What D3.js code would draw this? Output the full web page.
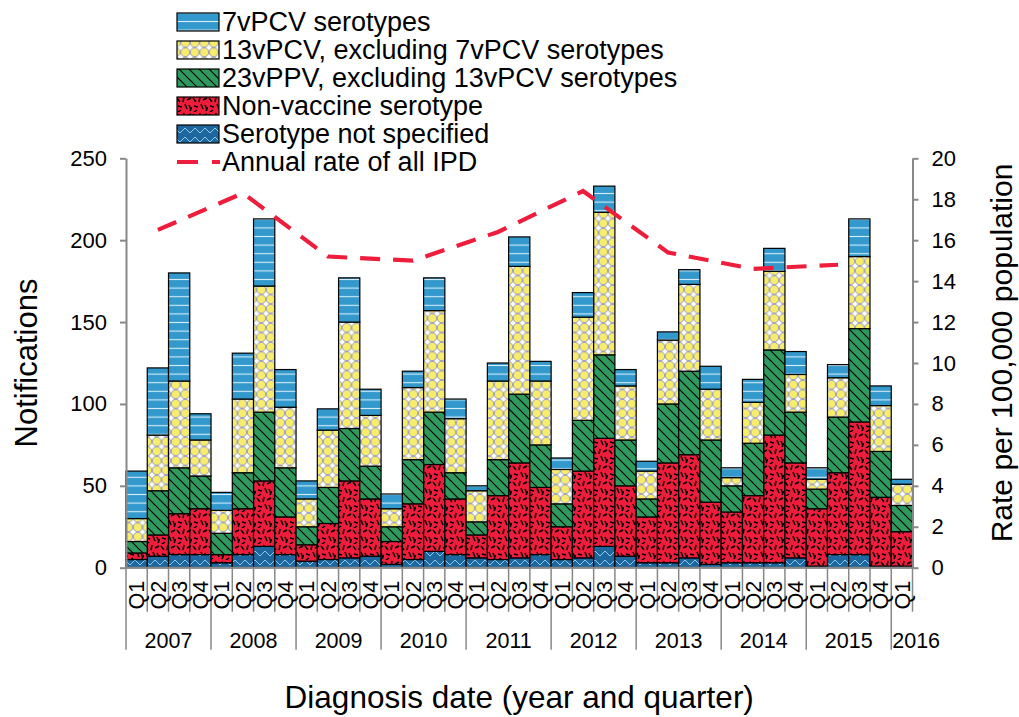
<!DOCTYPE html>
<html>
<head>
<meta charset="utf-8">
<script src="https://cdn.jsdelivr.net/npm/d3@7"></script>
<style>
  body { margin: 0; background: #fff; }
  svg text { font-family: "Liberation Sans", Arial, sans-serif; fill: #000; }
</style>
</head>
<body>
<svg id="chart" width="1019" height="717"></svg>
<script>
// ---------------- DATA ----------------
const years = ["2007","2008","2009","2010","2011","2012","2013","2014","2015","2016"];
const quarterLabels = ["Q1","Q2","Q3","Q4"];
const nQuarters = 37; // 2007 Q1 .. 2016 Q1

const notSpecified = [5,7,8,8, 3,8,13,8, 4,5,6,7, 2,5,10,8, 6,5,6,8, 5,6,13,7, 3,3,6,2, 3,3,3,6, 1,8,8,1, 1];
const nonVaccine   = [4,13,25,28, 5,28,40,23, 10,22,47,35, 14,34,53,34, 14,39,58,41, 20,53,66,43, 28,61,63,38, 31,41,78,58, 35,50,81,42, 21];
const ppv23        = [7,27,28,20, 13,22,42,30, 11,22,32,20, 9,27,32,16, 8,22,42,26, 14,31,51,28, 11,36,51,38, 16,32,52,31, 12,34,57,28, 16];
const pcv13        = [14,34,53,22, 14,45,77,37, 17,35,65,31, 11,44,62,33, 19,48,78,39, 21,63,87,33, 17,39,53,31, 5,25,48,23, 6,24,44,28, 13];
const pcv7         = [29,41,66,16, 11,28,41,23, 11,13,27,16, 9,10,20,12, 3,11,18,12, 7,15,16,10, 6,5,9,14, 6,14,14,14, 7,8,23,12, 3];

const rateYears = ["2007","2008","2009","2010","2011","2012","2013","2014","2015"];
const annualRate = [16.5, 18.3, 15.2, 15.0, 16.4, 18.4, 15.4, 14.6, 14.8];

const leftTicks = [0,50,100,150,200,250];
const rightTicks = [0,2,4,6,8,10,12,14,16,18,20];

const seriesNames = [
  "7vPCV serotypes",
  "13vPCV, excluding 7vPCV serotypes",
  "23vPPV, excluding 13vPCV serotypes",
  "Non-vaccine serotype",
  "Serotype not specified"
];
const lineName = "Annual rate of all IPD";

// ---------------- BUILD ROWS ----------------
const rows = d3.range(nQuarters).map(i => ({
  key: years[Math.floor(i/4)] + "-" + quarterLabels[i%4],
  year: years[Math.floor(i/4)],
  q: quarterLabels[i%4],
  ns: notSpecified[i], nv: nonVaccine[i], v23: ppv23[i], v13: pcv13[i], v7: pcv7[i]
}));
const stackKeys = ["ns","nv","v23","v13","v7"];
const patternFor = {v7:"url(#p7)", v13:"url(#p13)", v23:"url(#p23)", nv:"url(#pnv)", ns:"url(#pns)"};
const stacked = d3.stack().keys(stackKeys)(rows);

// ---------------- SCALES ----------------
const svg = d3.select("#chart");
const plotL = 126, plotR = 912.5, y0 = 567.7, yTop = 158.3;
const x = d3.scaleBand().domain(rows.map(r => r.key)).range([plotL, plotR]).paddingInner(0).paddingOuter(0);
const yL = d3.scaleLinear().domain([0,250]).range([y0, yTop]);
const yR = d3.scaleLinear().domain([0,20]).range([y0, yTop]);
const bw = x.bandwidth();

// ---------------- PATTERNS ----------------
const defs = svg.append("defs");
// 7vPCV: blue with light horizontal lines
const p7 = defs.append("pattern").attr("id","p7").attr("patternUnits","userSpaceOnUse").attr("width",10).attr("height",8.6);
p7.append("rect").attr("width",10).attr("height",8.6).attr("fill","#3399CC");
p7.append("line").attr("x1",0).attr("x2",10).attr("y1",4.3).attr("y2",4.3).attr("stroke","#d4ecf8").attr("stroke-width",1.1);
// 13vPCV: yellow circles
const p13 = defs.append("pattern").attr("id","p13").attr("patternUnits","userSpaceOnUse").attr("width",9.5).attr("height",9.5);
p13.append("rect").attr("width",9.5).attr("height",9.5).attr("fill","#ffffff");
p13.append("circle").attr("cx",4.75).attr("cy",4.75).attr("r",4.5).attr("fill","#F7EC6B").attr("stroke","#8f92b9").attr("stroke-width",0.9);
// 23vPPV: green with black diagonal lines
const p23 = defs.append("pattern").attr("id","p23").attr("patternUnits","userSpaceOnUse").attr("width",10).attr("height",10);
p23.append("rect").attr("width",10).attr("height",10).attr("fill","#2E9A5E");
p23.append("path").attr("d","M0,0L10,10M-5,5L5,15M5,-5L15,5").attr("stroke","#000").attr("stroke-width",1.2);
// Non-vaccine: red with black confetti dashes
const pnv = defs.append("pattern").attr("id","pnv").attr("patternUnits","userSpaceOnUse").attr("width",16).attr("height",16);
pnv.append("rect").attr("width",16).attr("height",16).attr("fill","#EE1D3B");
pnv.append("path").attr("d","M1,2L4,6M8,1L7,6M11,4L15,2M2,10L6,11M9,8L11,13M13,9L15,14M5,14L2,16M14,15L16,11")
  .attr("stroke","#000").attr("stroke-width",1.5);
// Not specified: dark blue with light zigzag
const pns = defs.append("pattern").attr("id","pns").attr("patternUnits","userSpaceOnUse").attr("width",10).attr("height",9);
pns.append("rect").attr("width",10).attr("height",9).attr("fill","#1E679E");
pns.append("path").attr("d","M0,7L5,2L10,7").attr("fill","none").attr("stroke","#8ccbee").attr("stroke-width",1);

// ---------------- BARS ----------------
const gBars = svg.append("g");
stacked.forEach(layer => {
  gBars.append("g").selectAll("rect").data(layer).join("rect")
    .attr("x", d => x(d.data.key))
    .attr("width", bw)
    .attr("y", d => yL(d[1]))
    .attr("height", d => Math.max(0, yL(d[0]) - yL(d[1])))
    .attr("fill", patternFor[layer.key])
    .attr("stroke", "#000")
    .attr("stroke-width", 1.2);
});

// ---------------- AXES ----------------
const axisColor = "#888888";
const gL = svg.append("g").attr("transform", `translate(${plotL},0)`)
  .call(d3.axisLeft(yL).tickValues(leftTicks).tickSize(6).tickSizeOuter(0).tickPadding(13));
const gR = svg.append("g").attr("transform", `translate(${plotR},0)`)
  .call(d3.axisRight(yR).tickValues(rightTicks).tickSize(6).tickSizeOuter(0).tickPadding(13));
[gL, gR].forEach(g => {
  g.selectAll("path.domain").attr("stroke", axisColor).attr("stroke-width", 2);
  g.selectAll(".tick line").attr("stroke", axisColor).attr("stroke-width", 2);
  g.selectAll(".tick text").attr("font-size", 22).attr("font-family", '"Liberation Sans", Arial, sans-serif').attr("fill","#000");
});

// X axis (multi-level)
const gX = svg.append("g");
gX.append("line").attr("x1", plotL).attr("x2", plotR).attr("y1", y0).attr("y2", y0)
  .attr("stroke", axisColor).attr("stroke-width", 2);
const boundaries = d3.range(nQuarters + 1).map(i => i < nQuarters ? x(rows[i].key) : plotR);
gX.selectAll("line.qsep").data(boundaries).join("line").attr("class","qsep")
  .attr("x1", d => d).attr("x2", d => d)
  .attr("y1", y0).attr("y2", (d, i) => (i % 4 === 0) ? y0 + 82 : y0 + 44)
  .attr("stroke", axisColor).attr("stroke-width", 1.5);
gX.selectAll("text.q").data(rows).join("text").attr("class","q")
  .attr("transform", d => `translate(${x(d.key) + bw/2},${y0 + 13}) rotate(-90)`)
  .attr("text-anchor", "end").attr("dy", "0.36em")
  .attr("font-size", 21.5).text(d => d.q);
const yearGroups = years.map(yv => {
  const qs = rows.filter(r => r.year === yv);
  const left = x(qs[0].key), right = x(qs[qs.length-1].key) + bw;
  return {year: yv, left, right, n: qs.length};
});
gX.selectAll("text.yr").data(yearGroups).join("text").attr("class","yr")
  .attr("x", d => d.n < 4 ? d.left + 1 : (d.left + d.right)/2)
  .attr("y", y0 + 80)
  .attr("text-anchor", d => d.n < 4 ? "start" : "middle")
  .attr("font-size", 21.5).text(d => d.year);

// ---------------- LINE ----------------
const lineData = rateYears.map((yv, i) => ({x: x(yv + "-Q2") + bw/2, v: annualRate[i]}));
svg.append("path").datum(lineData)
  .attr("d", d3.line().x(d => d.x).y(d => yR(d.v)))
  .attr("fill", "none").attr("stroke", "#EE1D3B").attr("stroke-width", 4.2)
  .attr("stroke-dasharray", "20,13");

// ---------------- TITLES ----------------
svg.append("text").attr("transform", `translate(37,${(y0 + yTop)/2}) rotate(-90)`)
  .attr("text-anchor","middle").attr("font-size", 31).text("Notifications");
svg.append("text").attr("transform", `translate(1012,${(y0 + yTop)/2 - 10}) rotate(-90)`)
  .attr("text-anchor","middle").attr("font-size", 30).text("Rate per 100,000 population");
svg.append("text").attr("x", (plotL + plotR)/2).attr("y", 708)
  .attr("text-anchor","middle").attr("font-size", 31.5).text("Diagnosis date (year and quarter)");

// ---------------- LEGEND ----------------
const legendPatterns = ["url(#p7)","url(#p13)","url(#p23)","url(#pnv)","url(#pns)"];
const legendFont = 27;
const gLeg = svg.append("g");
seriesNames.forEach((name, i) => {
  gLeg.append("rect").attr("x", 177).attr("y", 13 + i*28).attr("width", 42).attr("height", 18)
    .attr("fill", legendPatterns[i]).attr("stroke", "#000").attr("stroke-width", 1.2);
  gLeg.append("text").attr("x", 222).attr("y", 31 + i*28).attr("font-size", legendFont).text(name);
});
gLeg.append("line").attr("x1", 177).attr("x2", 220).attr("y1", 162).attr("y2", 162)
  .attr("stroke", "#EE1D3B").attr("stroke-width", 4.2).attr("stroke-dasharray", "21,14");
gLeg.append("text").attr("x", 222).attr("y", 31 + 5*28).attr("font-size", legendFont).text(lineName);
</script>
</body>
</html>
